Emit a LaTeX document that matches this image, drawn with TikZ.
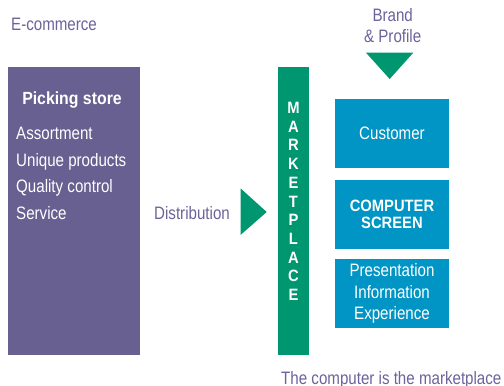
\documentclass[tikz,border=0pt]{standalone}
\usepackage{fontspec}
\setmainfont{Liberation Sans}[FakeStretch=0.84]
\newfontfamily\headfont{Liberation Sans}[FakeStretch=0.9]
\usetikzlibrary{positioning}

\definecolor{storepurple}{RGB}{103,96,144}
\definecolor{labelpurple}{RGB}{107,99,155}
\definecolor{mktgreen}{RGB}{0,150,112}
\definecolor{screenblue}{RGB}{0,149,196}

\newcommand{\reg}{\fontsize{18}{21.3}\selectfont}
\newcommand{\hd}{\headfont\bfseries\fontsize{16.4}{17.7}\selectfont}

\begin{document}
\begin{tikzpicture}[x=1pt, y=-1pt,
	every node/.style={inner sep=0pt},
	label/.style={text=labelpurple, font=\reg},
	inlabel/.style={text=white, font=\reg, anchor=base west},
	block/.style={fill=screenblue, text=white, minimum width=114pt, minimum height=69pt, align=center}]
	\useasboundingbox (0,0) rectangle (504,386);

	% left: the store
	\node[label, anchor=base west] (ecom) at (11,30.5) {E-commerce};
	\node[fill=storepurple, minimum width=132pt, minimum height=288pt] (store) at (74,211) {};
	\node[text=white, font=\headfont\bfseries\fontsize{17.6}{20}\selectfont, anchor=base] (pick) at (72,104.3) {Picking store};
	\node[inlabel] (assort)  at (16,139.5) {Assortment};
	\node[inlabel] (unique)  at (16,166.2) {Unique products};
	\node[inlabel] (quality) at (16,192.9) {Quality control};
	\node[inlabel] (service) at (16,219.6) {Service};

	% distribution arrow
	\node[label, anchor=base west] (dist) at (154,219.6) {Distribution};
	\fill[mktgreen] (240.5,188.3) -- (266.7,212) -- (240.5,235) -- cycle;

	% the marketplace bar
	\node[fill=mktgreen, minimum width=31pt, minimum height=287.5pt] (mkt) at (293.5,210.75) {};
	\foreach \ch [count=\i from 0] in {M,A,R,K,E,T,P,L,A,C,E}
		\node[text=white, font=\hd, anchor=base] (mkt-\i) at (293.5,113.3+18.74*\i) {\ch};

	% brand input (base = last line)
	\node[label, align=center, anchor=base] (brand) at (392.7,42.3) {Brand\\\&~Profile};
	\fill[mktgreen] (366,52.7) -- (413.3,52.7) -- (389.7,79) -- cycle;

	% right: the screen
	\node[block, font=\reg] (cust) at (392,133.5) {Customer};
	\node[block, font=\hd] (screen) at (392,214.5) {COMPUTER\\SCREEN};
	\node[block, font=\reg] (pres) at (392,293.5) {Presentation\\Information\\Experience};

	\node[label, anchor=base west] (caption) at (281,384.5) {The computer is the marketplace};
\end{tikzpicture}
\end{document}
